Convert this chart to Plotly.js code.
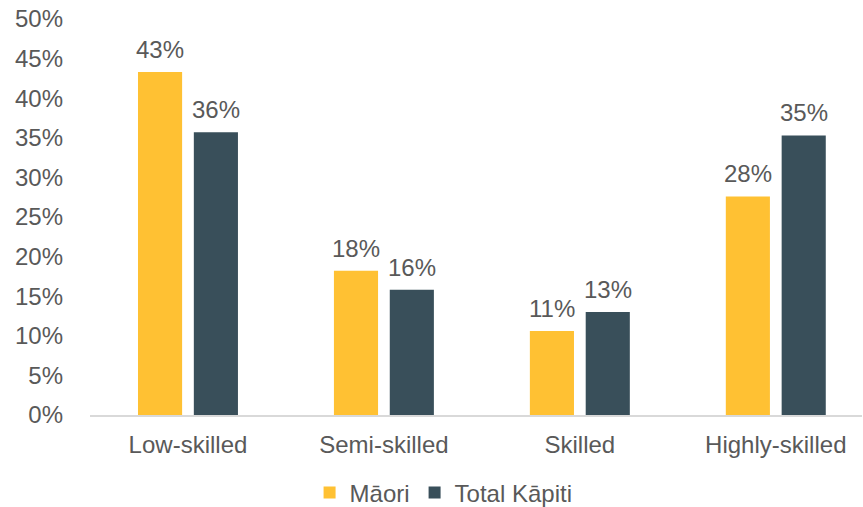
<!DOCTYPE html>
<html>
<head>
<meta charset="utf-8">
<script src="https://cdn.plot.ly/plotly-3.0.1.min.js"></script>
<style>html,body{margin:0;padding:0;background:#fff;}#chart{width:863px;height:507px;}</style>
</head>
<body>
<div id="chart"></div>
<script>
var categories = ["Low-skilled", "Semi-skilled", "Skilled", "Highly-skilled"];
var maoriValues = [0.433, 0.182, 0.106, 0.276];
var totalValues = [0.357, 0.158, 0.130, 0.353];
var seriesNames = ["Māori", "Total Kāpiti"];
var yTickVals = [0, 0.05, 0.10, 0.15, 0.20, 0.25, 0.30, 0.35, 0.40, 0.45, 0.50];

var textColor = "#595959";
var fontFamily = "Liberation Sans, Arial, sans-serif";
var fs = 24;

var traces = [
  {
    type: "bar", name: seriesNames[0], x: categories, y: maoriValues,
    marker: {color: "#FFC133"}, hoverinfo: "skip"
  },
  {
    type: "bar", name: seriesNames[1], x: categories, y: totalValues,
    marker: {color: "#394F5A"}, hoverinfo: "skip"
  }
];

var annotations = [];
function addLabels(values, shift) {
  values.forEach(function (v, i) {
    annotations.push({
      x: categories[i], y: v, xref: "x", yref: "y",
      text: Math.round(v * 100) + "%", showarrow: false,
      xanchor: "center", yanchor: "bottom", xshift: shift, yshift: 7,
      font: {size: fs, color: textColor, family: fontFamily}
    });
  });
}
addLabels(maoriValues, -28);
addLabels(totalValues, 28);

var layout = {
  width: 863, height: 507,
  margin: {l: 90, r: 1, t: 19, b: 92},
  paper_bgcolor: "#fff", plot_bgcolor: "#fff",
  font: {family: fontFamily, color: textColor, size: fs},
  barmode: "group", bargap: 0.43, bargroupgap: 0.21,
  showlegend: true,
  legend: {orientation: "h", x: 0.458, xanchor: "center", yref: "container", y: 0.028, yanchor: "middle",
           font: {size: fs, color: textColor}, itemwidth: 30, traceorder: "normal"},
  annotations: annotations,
  xaxis: {
    type: "category", range: [-0.5, 3.44],
    showline: true, linecolor: "#D9D9D9", linewidth: 1.5,
    ticks: "", showgrid: false, zeroline: false, ticklabelstandoff: 8,
    tickfont: {size: fs, color: textColor}, automargin: false
  },
  yaxis: {
    range: [0, 0.5], tickvals: yTickVals, tickformat: ".0%",
    showgrid: false, zeroline: false, showline: false, ticks: "",
    ticklabelstandoff: 26,
    tickfont: {size: fs, color: textColor}, automargin: false
  }
};

Plotly.newPlot("chart", traces, layout, {displayModeBar: false, staticPlot: true});
</script>
</body>
</html>
